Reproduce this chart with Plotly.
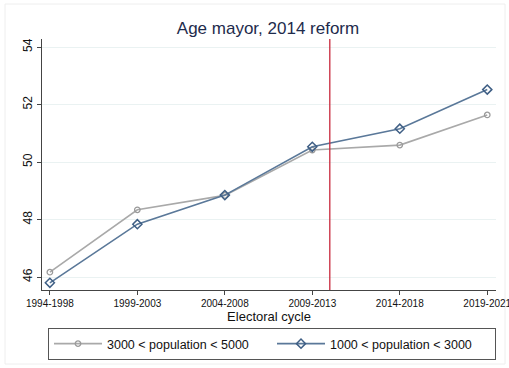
import plotly.graph_objects as go

cycles = ["1994-1998", "1999-2003", "2004-2008", "2009-2013", "2014-2018", "2019-2021"]
age_3000_5000 = [46.17, 48.34, 48.84, 50.42, 50.59, 51.64]
age_1000_3000 = [45.80, 47.84, 48.85, 50.53, 51.16, 52.52]
reform_position = 3.2
y_ticks = [46, 48, 50, 52, 54]

x_idx = list(range(len(cycles)))

fig = go.Figure()
fig.add_trace(go.Scatter(
    x=x_idx, y=age_3000_5000, mode="lines+markers",
    name="3000 < population < 5000",
    line=dict(color="#a9a9a9", width=1.6),
    marker=dict(symbol="circle-open", size=5.5, color="#9a9a9a", line=dict(width=1.3)),
))
fig.add_trace(go.Scatter(
    x=x_idx, y=age_1000_3000, mode="lines+markers",
    name="1000 < population < 3000",
    line=dict(color="#5a7899", width=1.6),
    marker=dict(symbol="diamond-open", size=7, color="#3f5f85", line=dict(width=1.5)),
))

# plot area in pixels: x 42..496, y 39..290
L, R, T, B = 42, 496, 39, 290
W, H = 509, 368
def px(x):
    return (x - L) / (R - L)
def py(y):
    return (B - y) / (B - T)

fig.update_layout(
    width=W, height=H,
    margin=dict(l=L, r=W - R, t=T, b=H - B, autoexpand=False),
    paper_bgcolor="white", plot_bgcolor="white",
    font=dict(family="Liberation Sans, Arial, sans-serif", color="#111111"),
    title=dict(text="Age mayor, 2014 reform", x=px(268), xref="paper", xanchor="center",
               y=1 - 28 / H, yanchor="middle",
               font=dict(size=17, color="#1e2b4c")),
    showlegend=True,
    legend=dict(orientation="h", x=px(48), xanchor="left", y=py(328), yanchor="top",
                bordercolor="#555555", borderwidth=1, bgcolor="white",
                font=dict(size=12.5, color="#111111"),
                entrywidth=160, entrywidthmode="pixels",
                itemwidth=48, tracegroupgap=0),
    shapes=[
        dict(type="line", xref="x", yref="paper", x0=reform_position, x1=reform_position,
             y0=0, y1=1, line=dict(color="#c8283c", width=1.3)),
        dict(type="rect", xref="paper", yref="paper", x0=px(5), x1=px(505),
             y0=py(364), y1=py(4), line=dict(color="#eeeeee", width=1), layer="below"),
    ],
)
fig.update_xaxes(
    range=[-0.09, 5.1], tickmode="array", tickvals=x_idx, ticktext=cycles,
    showline=True, linecolor="#444444", linewidth=1.2, ticks="outside", ticklen=4,
    tickcolor="#444444", tickfont=dict(size=10, color="#111111"),
    ticklabeloverflow="allow",
    showgrid=False, zeroline=False,
    title=dict(text="Electoral cycle", font=dict(size=13, color="#111111"), standoff=2),
)
fig.update_yaxes(
    range=[45.55, 54.28], tickmode="array", tickvals=y_ticks,
    showline=True, linecolor="#444444", linewidth=1.2, ticks="outside", ticklen=4,
    tickcolor="#444444", tickangle=-90, tickfont=dict(size=12, color="#111111"),
    showgrid=True, gridcolor="#eaf2f2", gridwidth=1, zeroline=False,
)

fig.write_html("out.html")
